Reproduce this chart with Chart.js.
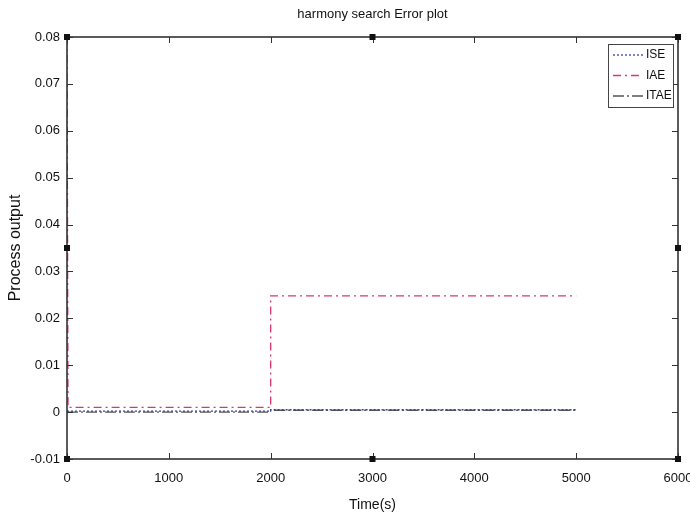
<!DOCTYPE html>
<html>
<head>
<meta charset="utf-8">
<title>harmony search Error plot</title>
<script src="https://cdn.jsdelivr.net/npm/chart.js@4.4.1/dist/chart.umd.min.js"></script>
<style>
  html, body { margin: 0; padding: 0; background: #fff; }
  #wrap { width: 690px; height: 518px; }
</style>
</head>
<body>
<div id="wrap"><canvas id="errChart" width="690" height="518"></canvas></div>
<script>
// error indices against time
const timeISE = [0, 2000, 2000, 5000];
const valuesISE = [0.0002, 0.0002, 0.0005, 0.0005];
const timeIAE = [0, 10, 2000, 2000, 5000];
const valuesIAE = [0.08, 0.001, 0.001, 0.0248, 0.0248];
const timeITAE = [0, 2000, 2000, 5000];
const valuesITAE = [0, 0, 0.0004, 0.0004];

const xTicks = [0, 1000, 2000, 3000, 4000, 5000, 6000];
const yTicks = [-0.01, 0, 0.01, 0.02, 0.03, 0.04, 0.05, 0.06, 0.07, 0.08];

const FONT = '"Liberation Sans", Arial, sans-serif';
const AXIS = '#333';

function toPoints(xs, ys) {
  return xs.map((x, i) => ({ x: x, y: ys[i] }));
}

// box, inward ticks and the figure handles, like a matlab axes
const axesFrame = {
  id: 'axesFrame',
  afterDatasetsDraw(chart) {
    const { ctx, chartArea: a, scales } = chart;
    ctx.save();
    ctx.strokeStyle = AXIS;
    ctx.lineWidth = 1.6;
    ctx.strokeRect(a.left, a.top, a.right - a.left, a.bottom - a.top);

    ctx.lineWidth = 1;
    ctx.beginPath();
    xTicks.forEach(v => {
      const px = Math.round(scales.x.getPixelForValue(v)) + 0.5;
      ctx.moveTo(px, a.bottom); ctx.lineTo(px, a.bottom - 6);
      ctx.moveTo(px, a.top); ctx.lineTo(px, a.top + 6);
    });
    yTicks.forEach(v => {
      const py = Math.round(scales.y.getPixelForValue(v)) + 0.5;
      ctx.moveTo(a.left, py); ctx.lineTo(a.left + 6, py);
      ctx.moveTo(a.right, py); ctx.lineTo(a.right - 6, py);
    });
    ctx.stroke();

    // selection handles
    const midX = (a.left + a.right) / 2;
    const midY = (a.top + a.bottom) / 2;
    const handles = [
      [a.left, a.top], [midX, a.top], [a.right, a.top],
      [a.left, midY], [a.right, midY],
      [a.left, a.bottom], [midX, a.bottom], [a.right, a.bottom]
    ];
    ctx.fillStyle = '#111';
    handles.forEach(h => ctx.fillRect(h[0] - 3, h[1] - 3, 6, 6));

    // title
    ctx.fillStyle = '#111';
    ctx.font = '13px ' + FONT;
    ctx.textAlign = 'center';
    ctx.textBaseline = 'middle';
    ctx.fillText('harmony search Error plot', midX, 14);
    ctx.restore();
  }
};

// boxed legend in the upper right corner
const boxLegend = {
  id: 'boxLegend',
  afterDraw(chart) {
    const { ctx, chartArea: a } = chart;
    const x0 = a.right - 70, y0 = a.top + 7, w = 65, h = 63;
    ctx.save();
    ctx.fillStyle = '#fff';
    ctx.fillRect(x0, y0, w, h);
    ctx.strokeStyle = '#444';
    ctx.lineWidth = 1;
    ctx.strokeRect(x0 + 0.5, y0 + 0.5, w, h);
    ctx.font = '12px ' + FONT;
    ctx.textBaseline = 'middle';
    chart.data.datasets.forEach((ds, i) => {
      const y = y0 + 11 + i * 20.5;
      ctx.strokeStyle = ds.borderColor;
      ctx.lineWidth = 1.3;
      ctx.setLineDash(ds.borderDash || []);
      ctx.beginPath();
      ctx.moveTo(x0 + 5, y);
      ctx.lineTo(x0 + 35, y);
      ctx.stroke();
      ctx.setLineDash([]);
      ctx.fillStyle = '#111';
      ctx.fillText(ds.label, x0 + 38, y);
    });
    ctx.restore();
  }
};

new Chart(document.getElementById('errChart'), {
  type: 'line',
  data: {
    datasets: [
      {
        label: 'ISE',
        data: toPoints(timeISE, valuesISE),
        borderColor: '#3b3f9c',
        borderDash: [2, 2],
        borderWidth: 1.3
      },
      {
        label: 'IAE',
        data: toPoints(timeIAE, valuesIAE),
        borderColor: '#d9386a',
        borderDash: [8, 4, 2, 4],
        borderWidth: 1.3
      },
      {
        label: 'ITAE',
        data: toPoints(timeITAE, valuesITAE),
        borderColor: '#555',
        borderDash: [11, 3, 2, 3],
        borderWidth: 1.3
      }
    ]
  },
  options: {
    responsive: false,
    animation: false,
    layout: { padding: { top: 37, right: 12, left: 0, bottom: 0 } },
    elements: { point: { radius: 0 }, line: { tension: 0 } },
    plugins: {
      legend: { display: false },
      tooltip: { enabled: false }
    },
    scales: {
      x: {
        type: 'linear',
        min: 0,
        max: 6000,
        afterBuildTicks: s => { s.ticks = xTicks.map(v => ({ value: v })); },
        afterFit: s => { s.height = 59; s.paddingLeft = 0; s.paddingRight = 0; },
        grid: { display: false, drawTicks: false },
        border: { display: false },
        ticks: {
          padding: 12,
          color: '#111',
          font: { family: FONT, size: 13 },
          maxRotation: 0,
          callback: v => String(v)
        },
        title: {
          display: true,
          text: 'Time(s)',
          color: '#111',
          font: { family: FONT, size: 14 },
          padding: { top: 6 }
        }
      },
      y: {
        min: -0.01,
        max: 0.08,
        afterBuildTicks: s => { s.ticks = yTicks.map(v => ({ value: v })); },
        afterFit: s => { s.width = 67; s.paddingTop = 0; s.paddingBottom = 0; },
        grid: { display: false, drawTicks: false },
        border: { display: false },
        ticks: {
          padding: 7,
          color: '#111',
          font: { family: FONT, size: 13 },
          callback: v => String(+v.toFixed(2))
        },
        title: {
          display: true,
          text: 'Process output',
          color: '#111',
          font: { family: FONT, size: 16 },
          padding: { top: 6, bottom: 0 }
        }
      }
    }
  },
  plugins: [axesFrame, boxLegend]
});
</script>
</body>
</html>
